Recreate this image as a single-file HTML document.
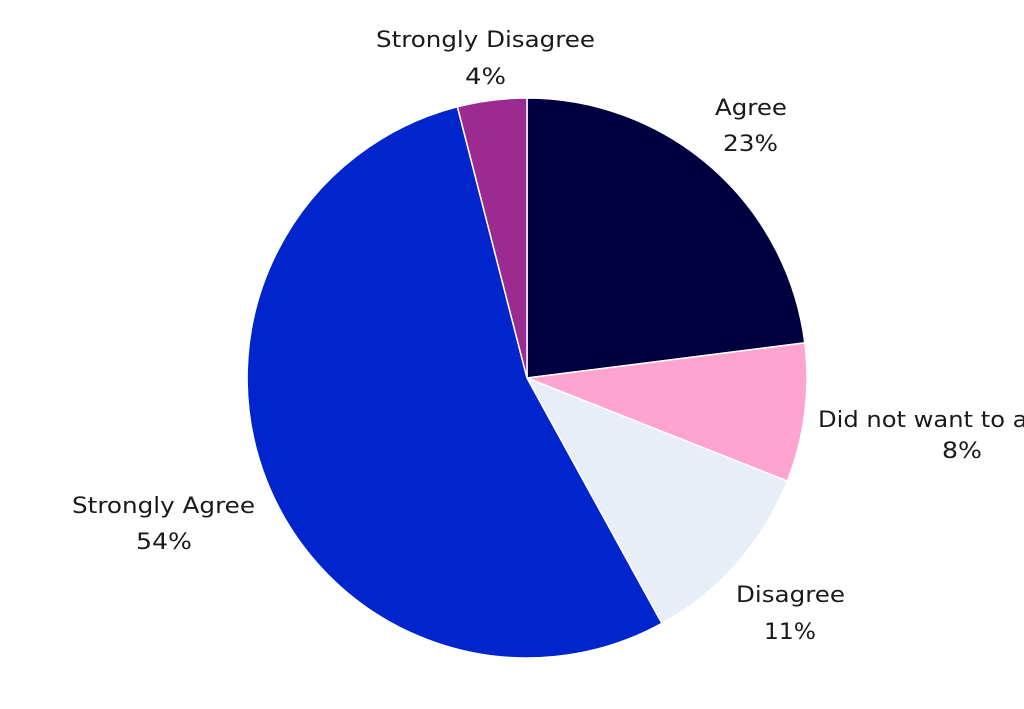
<!DOCTYPE html>
<html><head><meta charset="utf-8"><style>html,body{margin:0;padding:0;background:#fff;overflow:hidden}</style></head>
<body>
<svg width="1024" height="704" viewBox="0 0 1024 704" xmlns="http://www.w3.org/2000/svg">
<g stroke="#fff" stroke-width="1.5">
<path d="M527,378 L527,98 A280,280 0 0 1 804.8,342.9 Z" fill="#000040"/>
<path d="M527,378 L804.8,342.9 A280,280 0 0 1 787.3,481.1 Z" fill="#FFA3D0"/>
<path d="M527,378 L787.3,481.1 A280,280 0 0 1 661.9,623.4 Z" fill="#E8EEF8"/>
<path d="M527,378 L661.9,623.4 A280,280 0 1 1 457.4,106.8 Z" fill="#0025CC"/>
<path d="M527,378 L457.4,106.8 A280,280 0 0 1 527,98 Z" fill="#9B2A91"/>
</g>
<g font-family="DejaVu Sans, sans-serif" font-size="22" fill="#1a1a1a" lengthAdjust="spacingAndGlyphs">
<text x="376" y="47" textLength="219" lengthAdjust="spacingAndGlyphs">Strongly Disagree</text>
<text x="465" y="84" textLength="41" lengthAdjust="spacingAndGlyphs">4%</text>
<text x="715" y="115" textLength="72" lengthAdjust="spacingAndGlyphs">Agree</text>
<text x="723" y="151" textLength="55" lengthAdjust="spacingAndGlyphs">23%</text>
<text x="818" y="427" textLength="282" lengthAdjust="spacingAndGlyphs">Did not want to answer</text>
<text x="942" y="458" textLength="40" lengthAdjust="spacingAndGlyphs">8%</text>
<text x="736" y="602" textLength="109" lengthAdjust="spacingAndGlyphs">Disagree</text>
<text x="764" y="639" textLength="52" lengthAdjust="spacingAndGlyphs">11%</text>
<text x="72" y="513" textLength="183" lengthAdjust="spacingAndGlyphs">Strongly Agree</text>
<text x="136" y="549" textLength="56" lengthAdjust="spacingAndGlyphs">54%</text>
</g>
</svg>
</body></html>
